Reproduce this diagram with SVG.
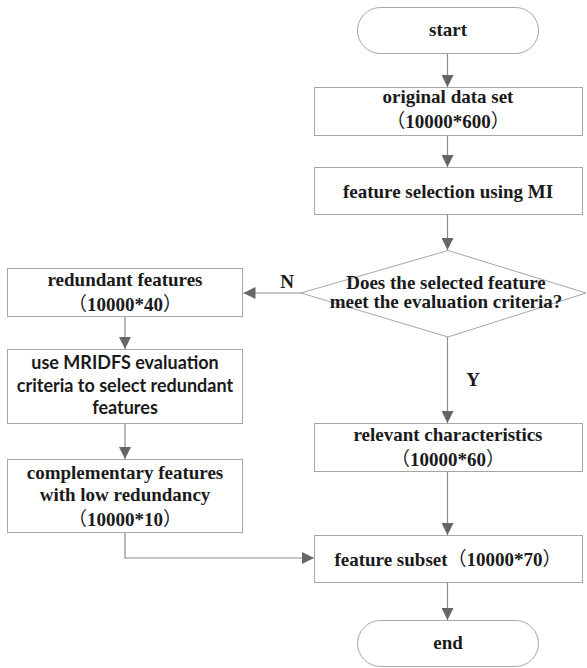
<svg xmlns="http://www.w3.org/2000/svg" width="587" height="668" viewBox="0 0 587 668">
  <style>
    .box { fill: #ffffff; stroke: #a6a6a6; stroke-width: 1; }
    .link { fill: none; stroke: #8c8c8c; stroke-width: 1.2; }
    .t { font-family: "Liberation Serif", "Times New Roman", serif; font-weight: bold; font-size: 19px; fill: #1a1a1a; text-anchor: middle; }
    .cjk { font-family: "Noto Sans CJK SC", sans-serif; font-weight: normal; }
    .s { font-family: Lato, "Liberation Sans", sans-serif; font-weight: bold; font-size: 18px; fill: #1a1a1a; text-anchor: middle; }
  </style>
  <defs>
    <marker id="arrow" markerUnits="userSpaceOnUse" markerWidth="13" markerHeight="12" refX="12" refY="6" orient="auto">
      <path d="M0,0 L12,6 L0,12 Z" fill="#666666"/>
    </marker>
  </defs>
  <rect width="587" height="668" fill="#ffffff"/>

  <g id="connectors">
    <line class="link" x1="447.5" y1="53" x2="447.5" y2="87" marker-end="url(#arrow)"/>
    <line class="link" x1="447.5" y1="136" x2="447.5" y2="167" marker-end="url(#arrow)"/>
    <line class="link" x1="447.5" y1="215" x2="447.5" y2="250" marker-end="url(#arrow)"/>
    <line class="link" x1="301" y1="293" x2="243.5" y2="293" marker-end="url(#arrow)"/>
    <line class="link" x1="447.5" y1="337" x2="447.5" y2="423" marker-end="url(#arrow)"/>
    <line class="link" x1="447.5" y1="472" x2="447.5" y2="535" marker-end="url(#arrow)"/>
    <line class="link" x1="447.5" y1="583" x2="447.5" y2="620" marker-end="url(#arrow)"/>
    <line class="link" x1="125" y1="317" x2="125" y2="349" marker-end="url(#arrow)"/>
    <line class="link" x1="125" y1="424" x2="125" y2="459" marker-end="url(#arrow)"/>
    <path class="link" d="M125,533 V558 H314" marker-end="url(#arrow)"/>
    <text class="t" x="287" y="288">N</text>
    <text class="t" x="473" y="386">Y</text>
  </g>

  <g id="start">
    <rect class="box" x="357.5" y="7.5" width="181" height="46" rx="23" ry="23"/>
    <text class="t" x="448" y="36">start</text>
  </g>

  <g id="original-data">
    <rect class="box" x="314.5" y="87.5" width="268" height="48"/>
    <text class="t" x="448" y="103">original data set</text>
    <text class="t" x="448" y="128"><tspan class="cjk">（</tspan>10000*600<tspan class="cjk">）</tspan></text>
  </g>

  <g id="mi-selection">
    <rect class="box" x="314.5" y="167.5" width="268" height="47"/>
    <text class="t" x="448" y="198">feature selection using MI</text>
  </g>

  <g id="criteria-check">
    <polygon class="box" points="448,250.5 586,293 448,337 301,293"/>
    <text class="t" x="446" y="289">Does the selected feature</text>
    <text class="t" x="446" y="308">meet the evaluation criteria?</text>
  </g>

  <g id="relevant">
    <rect class="box" x="314.5" y="423.5" width="268" height="48"/>
    <text class="t" x="448" y="441">relevant characteristics</text>
    <text class="t" x="448" y="466"><tspan class="cjk">（</tspan>10000*60<tspan class="cjk">）</tspan></text>
  </g>

  <g id="subset">
    <rect class="box" x="314.5" y="535.5" width="268" height="47"/>
    <text class="t" x="448" y="566">feature subset<tspan class="cjk">（</tspan>10000*70<tspan class="cjk">）</tspan></text>
  </g>

  <g id="end">
    <rect class="box" x="357.5" y="620.5" width="181" height="46" rx="23" ry="23"/>
    <text class="t" x="448" y="649">end</text>
  </g>

  <g id="redundant">
    <rect class="box" x="7.5" y="268.5" width="235" height="48"/>
    <text class="t" x="125" y="286">redundant features</text>
    <text class="t" x="125" y="311"><tspan class="cjk">（</tspan>10000*40<tspan class="cjk">）</tspan></text>
  </g>

  <g id="mridfs">
    <rect class="box" x="7.5" y="349.5" width="235" height="74"/>
    <text class="s" x="125" y="369">use MRIDFS evaluation</text>
    <text class="s" x="125" y="392">criteria to select redundant</text>
    <text class="s" x="125" y="414">features</text>
  </g>

  <g id="complementary">
    <rect class="box" x="7.5" y="459.5" width="235" height="73"/>
    <text class="t" x="125" y="479">complementary features</text>
    <text class="t" x="125" y="501">with low redundancy</text>
    <text class="t" x="125" y="526"><tspan class="cjk">（</tspan>10000*10<tspan class="cjk">）</tspan></text>
  </g>
</svg>
